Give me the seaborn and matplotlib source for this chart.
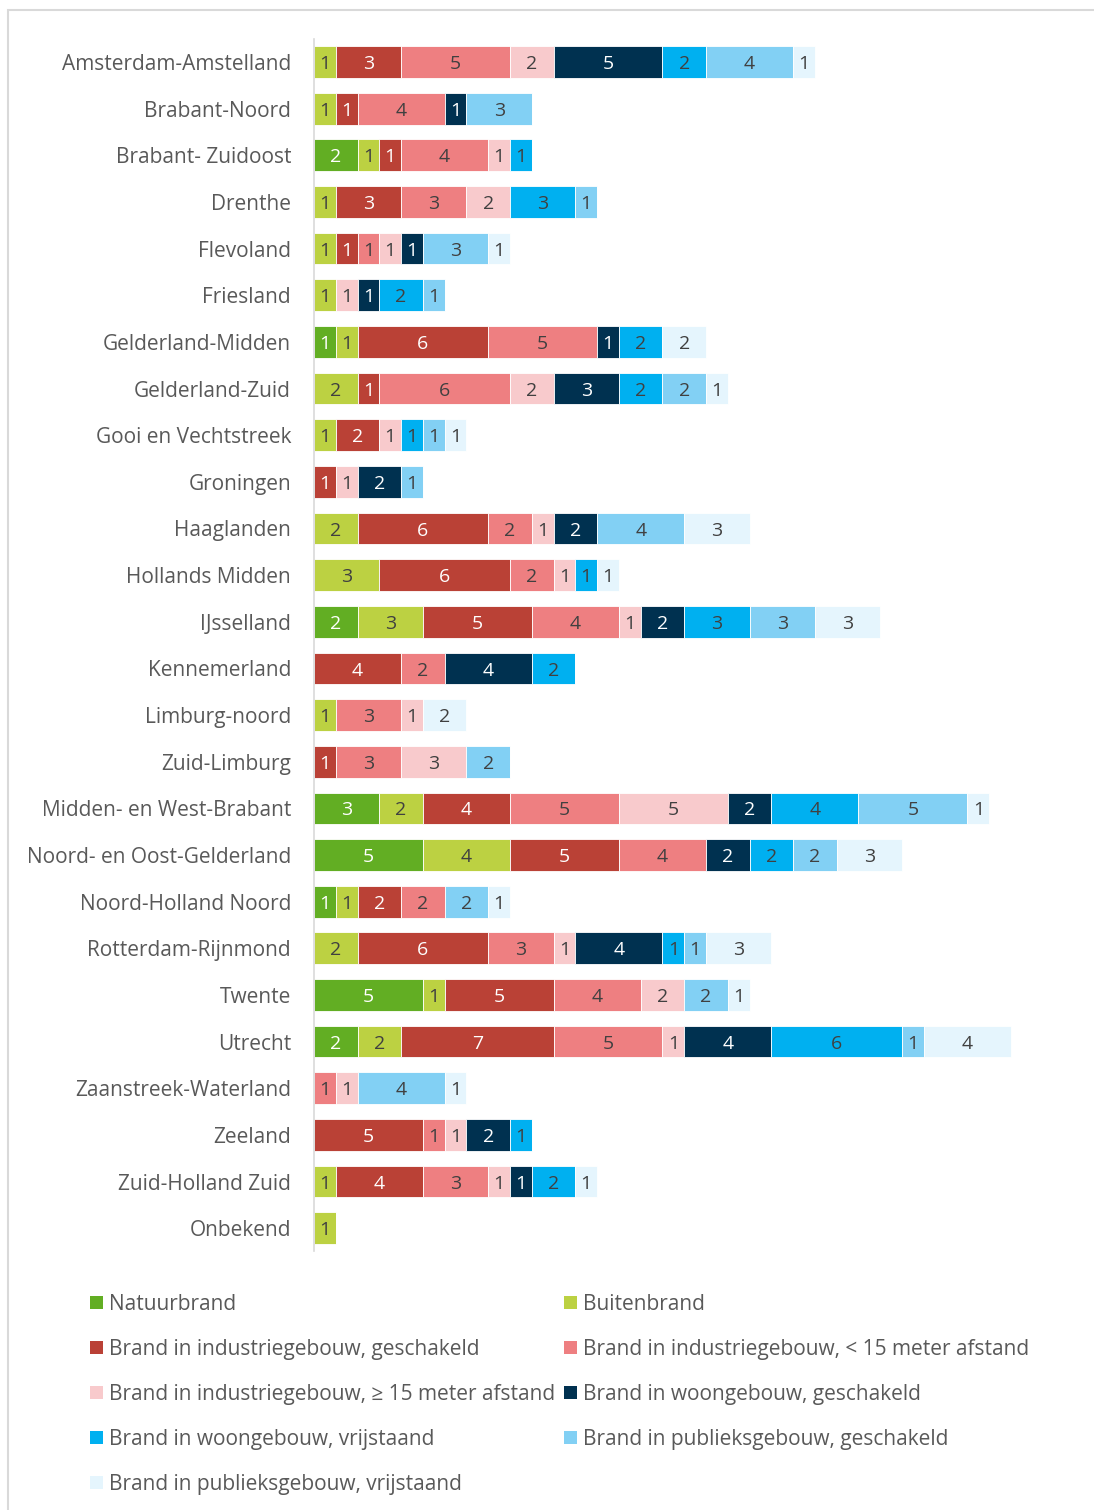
import numpy as np
import pandas as pd
import matplotlib
matplotlib.use("Agg")
import matplotlib.pyplot as plt
from matplotlib.patches import Patch, Rectangle
import seaborn as sns

# Regions (veiligheidsregio's), top to bottom
regions = [
    "Amsterdam-Amstelland", "Brabant-Noord", "Brabant- Zuidoost", "Drenthe",
    "Flevoland", "Friesland", "Gelderland-Midden", "Gelderland-Zuid",
    "Gooi en Vechtstreek", "Groningen", "Haaglanden", "Hollands Midden",
    "IJsselland", "Kennemerland", "Limburg-noord", "Zuid-Limburg",
    "Midden- en West-Brabant", "Noord- en Oost-Gelderland", "Noord-Holland Noord",
    "Rotterdam-Rijnmond", "Twente", "Utrecht", "Zaanstreek-Waterland",
    "Zeeland", "Zuid-Holland Zuid", "Onbekend",
]

# Counts per fire type, in region order
natuurbrand      = [0, 0, 2, 0, 0, 0, 1, 0, 0, 0, 0, 0, 2, 0, 0, 0, 3, 5, 1, 0, 5, 2, 0, 0, 0, 0]
buitenbrand      = [1, 1, 1, 1, 1, 1, 1, 2, 1, 0, 2, 3, 3, 0, 1, 0, 2, 4, 1, 2, 1, 2, 0, 0, 1, 1]
industrie_gesch  = [3, 1, 1, 3, 1, 0, 6, 1, 2, 1, 6, 6, 5, 4, 0, 1, 4, 5, 2, 6, 5, 7, 0, 5, 4, 0]
industrie_lt15   = [5, 4, 4, 3, 1, 0, 5, 6, 0, 0, 2, 2, 4, 2, 3, 3, 5, 4, 2, 3, 4, 5, 1, 1, 3, 0]
industrie_ge15   = [2, 0, 1, 2, 1, 1, 0, 2, 1, 1, 1, 1, 1, 0, 1, 3, 5, 0, 0, 1, 2, 1, 1, 1, 1, 0]
woon_gesch       = [5, 1, 0, 0, 1, 1, 1, 3, 0, 2, 2, 0, 2, 4, 0, 0, 2, 2, 0, 4, 0, 4, 0, 2, 1, 0]
woon_vrij        = [2, 0, 1, 3, 0, 2, 2, 2, 1, 0, 0, 1, 3, 2, 0, 0, 4, 2, 0, 1, 0, 6, 0, 1, 2, 0]
publiek_gesch    = [4, 3, 0, 1, 3, 1, 0, 2, 1, 1, 4, 0, 3, 0, 0, 2, 5, 2, 2, 1, 2, 1, 4, 0, 0, 0]
publiek_vrij     = [1, 0, 0, 0, 1, 0, 2, 1, 1, 0, 3, 1, 3, 0, 2, 0, 1, 3, 1, 3, 1, 4, 1, 0, 1, 0]

series_names = [
    "Natuurbrand",
    "Buitenbrand",
    "Brand in industriegebouw, geschakeld",
    "Brand in industriegebouw, < 15 meter afstand",
    "Brand in industriegebouw, \u2265 15 meter afstand",
    "Brand in woongebouw, geschakeld",
    "Brand in woongebouw, vrijstaand",
    "Brand in publieksgebouw, geschakeld",
    "Brand in publieksgebouw, vrijstaand",
]
series_values = [
    natuurbrand, buitenbrand, industrie_gesch, industrie_lt15, industrie_ge15,
    woon_gesch, woon_vrij, publiek_gesch, publiek_vrij,
]
series_colors = [
    "#62AE23", "#BCD142", "#BA4136", "#EE7F81", "#F8CACC",
    "#003150", "#00B0F0", "#82D0F4", "#E5F5FD",
]
label_colors = [
    "white", "#404040", "white", "#404040", "#404040",
    "white", "#404040", "#404040", "#404040",
]

sns.set_style("white")
plt.rcParams["font.family"] = ["Open Sans", "DejaVu Sans"]

TEXT = "#595959"
GRID = "#D9D9D9"

fig = plt.figure(figsize=(10.94, 15.10), dpi=100)
ax = fig.add_axes([314 / 1094, 1 - 1251.5 / 1510, 762.3 / 1094, 1212.8 / 1510])

left = np.zeros(len(regions))
for name, vals, col, lc in zip(series_names, series_values, series_colors, label_colors):
    vals = np.asarray(vals, dtype=float)
    df = pd.DataFrame({"region": regions, "count": vals})
    sns.barplot(
        data=df, x="count", y="region", order=regions, orient="h",
        color=col, saturation=1, left=left, width=0.68, errorbar=None,
        edgecolor="white", linewidth=0.6, ax=ax, zorder=2,
    )
    cont = ax.containers[-1]
    texts = ax.bar_label(
        cont, labels=[f"{int(v)}" if v > 0 else "" for v in vals],
        label_type="center", color=lc, fontsize=14,
    )
    # digits have no descenders; nudge them down to sit visually centred
    for t in texts:
        t.xyann = (0, -1.5)
    left = left + vals

ax.set_xlim(0, 35)
ax.set_ylim(len(regions) - 0.5, -0.5)
ax.set_xlabel("")
ax.set_ylabel("")
ax.set_xticks([])
ax.tick_params(axis="y", length=0, pad=16.5, labelsize=15, labelcolor=TEXT)
for s in ["top", "right", "bottom"]:
    ax.spines[s].set_visible(False)
ax.spines["left"].set_color(GRID)
ax.spines["left"].set_linewidth(1.2)
ax.spines["left"].set_zorder(3)

# Legend, filled row by row in two columns
handles = [Patch(facecolor=c, edgecolor="none", label=n)
           for n, c in zip(series_names, series_colors)]
order = [0, 2, 4, 6, 8, 1, 3, 5, 7]
fig.legend(
    handles=[handles[i] for i in order], ncol=2, loc="upper left",
    bbox_to_anchor=(90 / 1094, 1 - 1294 / 1510), frameon=False,
    fontsize=15, labelcolor=TEXT, handlelength=0.6, handleheight=0.6,
    handletextpad=0.3, columnspacing=0.45, labelspacing=1.15,
    borderpad=0, borderaxespad=0,
)

# Outer chart frame
fig.patches.append(Rectangle(
    (8 / 1094, -0.02), 1.05, 1.02 - 10 / 1510, transform=fig.transFigure,
    fill=False, edgecolor=GRID, linewidth=1.5, zorder=0,
))

fig.savefig("out.png", dpi=100)
